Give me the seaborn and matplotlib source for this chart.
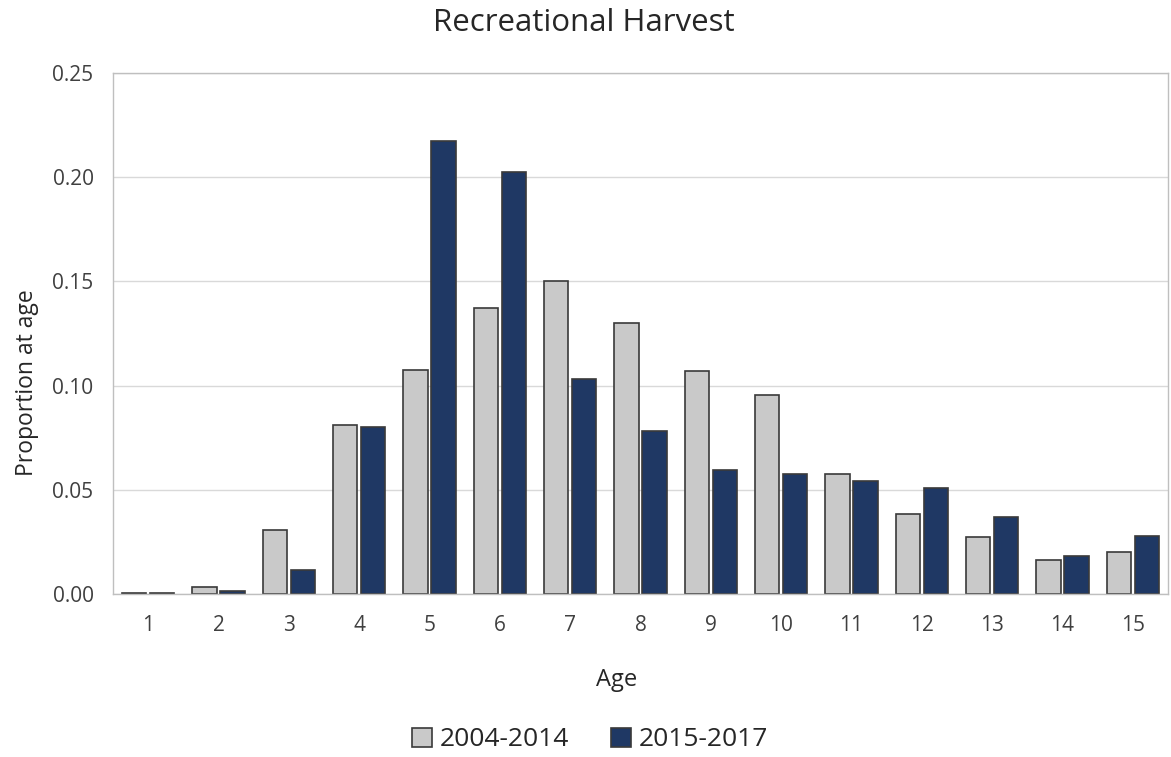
import matplotlib
matplotlib.use("Agg")
import matplotlib.pyplot as plt
import seaborn as sns
import pandas as pd

ages = list(range(1, 16))
series_names = ["2004-2014", "2015-2017"]
vals_2004_2014 = [0.0005, 0.0034, 0.0307, 0.081, 0.1075, 0.137, 0.150, 0.130, 0.107, 0.0955, 0.0576, 0.0384, 0.0274, 0.0163, 0.020]
vals_2015_2017 = [0.0005, 0.0014, 0.0115, 0.080, 0.2174, 0.2025, 0.103, 0.078, 0.0595, 0.0576, 0.0542, 0.0509, 0.037, 0.0182, 0.0278]

df = pd.DataFrame({
    "Age": [str(a) for a in ages] * 2,
    "Proportion": vals_2004_2014 + vals_2015_2017,
    "Period": [series_names[0]] * len(ages) + [series_names[1]] * len(ages),
})

sns.set_theme(style="white")
plt.rcParams['font.family'] = ['Open Sans', 'DejaVu Sans']

W, H = 1171, 757
fig = plt.figure(figsize=(W / 100, H / 100), dpi=100)
ax = fig.add_axes([113 / W, 1 - 594 / H, (1168 - 113) / W, (594 - 73) / H])

palette = {series_names[0]: "#c9c9c9", series_names[1]: "#1f3864"}
sns.barplot(data=df, x="Age", y="Proportion", hue="Period", palette=palette,
            ax=ax, width=0.8, gap=0.14, edgecolor="#3a3a3a", linewidth=1.2, saturation=1)

ax.set_ylim(0, 0.25)
ax.set_yticks([0, 0.05, 0.10, 0.15, 0.20, 0.25])
ax.set_yticklabels(["0.00", "0.05", "0.10", "0.15", "0.20", "0.25"])
ax.yaxis.grid(True, color="#d9d9d9", linewidth=1)
ax.set_axisbelow(True)
for s in ax.spines.values():
    s.set_color("#bfbfbf")
    s.set_linewidth(1)
ax.tick_params(axis="y", labelsize=15, colors="#404040", length=0, pad=14)
ax.tick_params(axis="x", labelsize=15, colors="#404040", length=0, pad=15)
ax.set_xlabel("")
ax.set_ylabel("")

fig.text(584 / W, 1 - 23 / H, "Recreational Harvest", fontsize=22.5, color="#262626",
         ha="center", va="center")
fig.text(617 / W, 1 - 680 / H, "Age", fontsize=17, color="#262626", ha="center", va="center")
fig.text(27 / W, 1 - 383 / H, "Proportion at age", fontsize=16.5, color="#262626",
         ha="center", va="center", rotation=90)

handles, labels = ax.get_legend_handles_labels()
ax.legend_.remove()
fig.legend(handles, labels, loc="center", bbox_to_anchor=(590 / W, 1 - 740 / H), ncol=2,
           frameon=False, fontsize=19, handlelength=0.75, handleheight=0.75,
           columnspacing=1.6, handletextpad=0.3, labelcolor="#262626")

fig.savefig("out.png", dpi=100)
